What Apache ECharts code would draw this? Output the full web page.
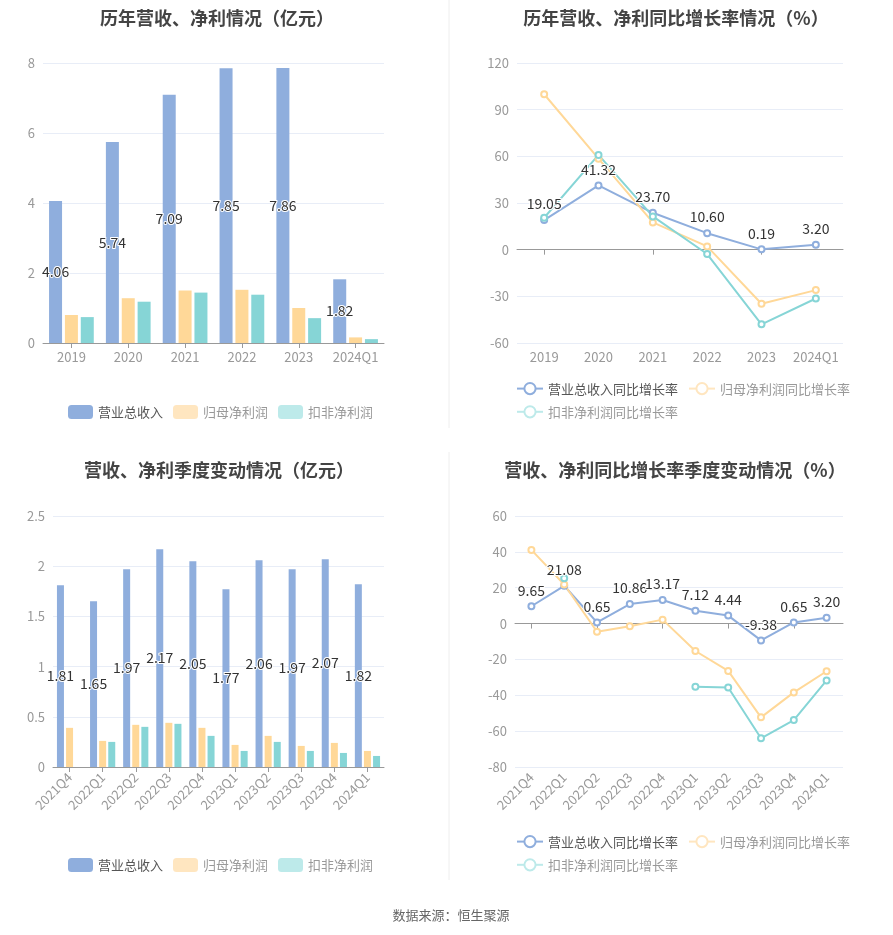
<!DOCTYPE html>
<html><head><meta charset="utf-8">
<script src="https://cdn.jsdelivr.net/npm/echarts@6/dist/echarts.min.js"></script>
<style>html,body{margin:0;padding:0;background:#fff;}#c{width:893px;height:935px;}</style>
</head><body><div id="c"></div>
<script>
// ---- data ----
const yearCats = ['2019','2020','2021','2022','2023','2024Q1'];
const yearRevenue = [4.06, 5.74, 7.09, 7.85, 7.86, 1.82];
const yearNetProfit = [0.80, 1.28, 1.50, 1.52, 1.00, 0.16];
const yearDeductProfit = [0.74, 1.18, 1.44, 1.38, 0.71, 0.11];

const yearRevenueGrowth = [19.05, 41.32, 23.70, 10.60, 0.19, 3.20];
const yearNetGrowth = [99.9, 58.5, 17.5, 2.1, -34.8, -26.0];
const yearDeductGrowth = [20.5, 60.9, 21.4, -2.8, -48.0, -31.4];

const qCats = ['2021Q4','2022Q1','2022Q2','2022Q3','2022Q4','2023Q1','2023Q2','2023Q3','2023Q4','2024Q1'];
const qRevenue = [1.81, 1.65, 1.97, 2.17, 2.05, 1.77, 2.06, 1.97, 2.07, 1.82];
const qNetProfit = [0.39, 0.26, 0.42, 0.44, 0.39, 0.22, 0.31, 0.21, 0.24, 0.16];
const qDeductProfit = [null, 0.25, 0.40, 0.43, 0.31, 0.16, 0.25, 0.16, 0.14, 0.11];

const qRevenueGrowth = [9.65, 21.08, 0.65, 10.86, 13.17, 7.12, 4.44, -9.38, 0.65, 3.20];
const qNetGrowth = [41.1, 21.8, -4.5, -1.5, 2.2, -15.3, -26.4, -52.3, -38.4, -26.6];
const qDeductGrowth = [null, 25.3, null, null, null, -35.2, -35.7, -64.0, -53.8, -31.7];

const titles = ['历年营收、净利情况（亿元）','历年营收、净利同比增长率情况（%）','营收、净利季度变动情况（亿元）','营收、净利同比增长率季度变动情况（%）'];
const barNames = ['营业总收入','归母净利润','扣非净利润'];
const lineNames = ['营业总收入同比增长率','归母净利润同比增长率','扣非净利润同比增长率'];
const sourceText = '数据来源：恒生聚源';

// ---- styles ----
const C_BLUE = '#8FAEDD', C_YEL = '#FFD898', C_CYAN = '#86D5D6';
const L_YEL = '#FFE6C0', L_CYAN = '#BDEAEA';
const axisLabel = {color:'#999', fontSize:13};
const splitLine = {show:true, lineStyle:{color:'#E8EDF7'}};
const dataLabel = {show:true, color:'#333', fontSize:14, textBorderColor:'#fff', textBorderWidth:2};

function barLegend(left, top){
  return {left, top, itemWidth:25, itemHeight:14, itemGap:10, icon:'roundRect',
    textStyle:{fontSize:13, color:'#999'},
    data:[
      {name:barNames[0], itemStyle:{color:C_BLUE}, textStyle:{color:'#555'}},
      {name:barNames[1], itemStyle:{color:L_YEL}},
      {name:barNames[2], itemStyle:{color:L_CYAN}}
    ]};
}
function lineLegend(left, top){
  return {left, top, width:345, itemWidth:26, itemHeight:14, itemGap:10,
    textStyle:{fontSize:13, color:'#999'},
    data:[
      {name:lineNames[0], textStyle:{color:'#555'}},
      {name:lineNames[1], itemStyle:{color:L_YEL, borderColor:L_YEL}, lineStyle:{color:L_YEL}},
      {name:lineNames[2], itemStyle:{color:L_CYAN, borderColor:L_CYAN}, lineStyle:{color:L_CYAN}}
    ]};
}
function catAxis(grid, data, rotate){
  return {type:'category', gridIndex:grid, data,
    axisLine:{show:true, lineStyle:{color:'#999'}},
    axisTick:{show:true, alignWithLabel:true, lineStyle:{color:'#999'}},
    axisLabel:Object.assign({interval:0, rotate:rotate||0}, axisLabel)};
}
function zeroLineAxes(grid, data, rotate){
  // axis line + ticks on zero, labels at grid bottom
  return [
    {type:'category', gridIndex:grid, data,
      axisLine:{show:true, onZero:true, lineStyle:{color:'#999'}},
      axisTick:{show:true, alignWithLabel:true, lineStyle:{color:'#999'}},
      axisLabel:{show:false}},
    {type:'category', gridIndex:grid, data, position:'bottom',
      axisLine:{show:false, onZero:false}, axisTick:{show:false},
      axisLabel:Object.assign({interval:0, rotate:rotate||0}, axisLabel)}
  ];
}
function valAxis(grid, min, max, interval){
  return {type:'value', gridIndex:grid, min, max, interval,
    axisLine:{show:false}, axisTick:{show:false}, axisLabel, splitLine};
}
function lineSeries(name, data, color, x, y, withLabel){
  const s = {type:'line', name, data, xAxisIndex:x, yAxisIndex:y,
    symbol:'emptyCircle', symbolSize:6, showAllSymbol:true,
    lineStyle:{color, width:2}, itemStyle:{color, borderWidth:2}};
  if (withLabel) s.label = Object.assign({position:'top', formatter:p=>p.value.toFixed(2)}, dataLabel);
  return s;
}

const option = {
  animation:false,
  textStyle:{fontFamily:'"Noto Sans CJK SC", "Noto Sans", sans-serif'},
  title:[
    {text:titles[0], left:212, top:4, textAlign:'center', textStyle:{fontSize:18, fontWeight:'bold', color:'#444'}},
    {text:titles[1], left:671, top:4, textAlign:'center', textStyle:{fontSize:18, fontWeight:'bold', color:'#444'}},
    {text:titles[2], left:214, top:456, textAlign:'center', textStyle:{fontSize:18, fontWeight:'bold', color:'#444'}},
    {text:titles[3], left:670, top:456, textAlign:'center', textStyle:{fontSize:18, fontWeight:'bold', color:'#444'}},
    {text:sourceText, left:446, top:904, textAlign:'center', textStyle:{fontSize:13, fontWeight:'normal', color:'#666'}}
  ],
  legend:[barLegend(63, 400), lineLegend(511, 377), barLegend(63, 853), lineLegend(511, 830)],
  grid:[
    {left:43, right:509, top:63, bottom:592},
    {left:517, right:50, top:63, bottom:592},
    {left:53, right:509, top:516, bottom:168},
    {left:515, right:50, top:516, bottom:168}
  ],
  xAxis:[
    catAxis(0, yearCats),
    ...zeroLineAxes(1, yearCats),
    catAxis(2, qCats, 45),
    ...zeroLineAxes(3, qCats, 45)
  ],
  yAxis:[
    valAxis(0, 0, 8, 2),
    valAxis(1, -60, 120, 30),
    valAxis(2, 0, 2.5, 0.5),
    valAxis(3, -80, 60, 20)
  ],
  series:[
    {type:'bar', name:barNames[0], data:yearRevenue, xAxisIndex:0, yAxisIndex:0, barWidth:13, barGap:'22%', itemStyle:{color:C_BLUE},
      label:Object.assign({position:'inside', formatter:p=>p.value.toFixed(2)}, dataLabel)},
    {type:'bar', name:barNames[1], data:yearNetProfit, xAxisIndex:0, yAxisIndex:0, barWidth:13, barGap:'22%', itemStyle:{color:C_YEL}},
    {type:'bar', name:barNames[2], data:yearDeductProfit, xAxisIndex:0, yAxisIndex:0, barWidth:13, barGap:'22%', itemStyle:{color:C_CYAN}},

    lineSeries(lineNames[0], yearRevenueGrowth, C_BLUE, 1, 1, true),
    lineSeries(lineNames[1], yearNetGrowth, C_YEL, 1, 1, false),
    lineSeries(lineNames[2], yearDeductGrowth, C_CYAN, 1, 1, false),

    {type:'bar', name:barNames[0], data:qRevenue, xAxisIndex:3, yAxisIndex:2, barWidth:7, barGap:'30%', itemStyle:{color:C_BLUE},
      label:Object.assign({position:'inside', formatter:p=>p.value.toFixed(2)}, dataLabel)},
    {type:'bar', name:barNames[1], data:qNetProfit, xAxisIndex:3, yAxisIndex:2, barWidth:7, barGap:'30%', itemStyle:{color:C_YEL}},
    {type:'bar', name:barNames[2], data:qDeductProfit, xAxisIndex:3, yAxisIndex:2, barWidth:7, barGap:'30%', itemStyle:{color:C_CYAN}},

    lineSeries(lineNames[0], qRevenueGrowth, C_BLUE, 4, 3, true),
    lineSeries(lineNames[1], qNetGrowth, C_YEL, 4, 3, false),
    lineSeries(lineNames[2], qDeductGrowth, C_CYAN, 4, 3, false)
  ],
  graphic:[
    {type:'line', shape:{x1:449, y1:0, x2:449, y2:428}, style:{stroke:'#eee', lineWidth:1}},
    {type:'line', shape:{x1:449, y1:452, x2:449, y2:880}, style:{stroke:'#eee', lineWidth:1}}
  ]
};
const chart = echarts.init(document.getElementById('c'), null, {renderer:'canvas'});
chart.setOption(option);
</script></body></html>
